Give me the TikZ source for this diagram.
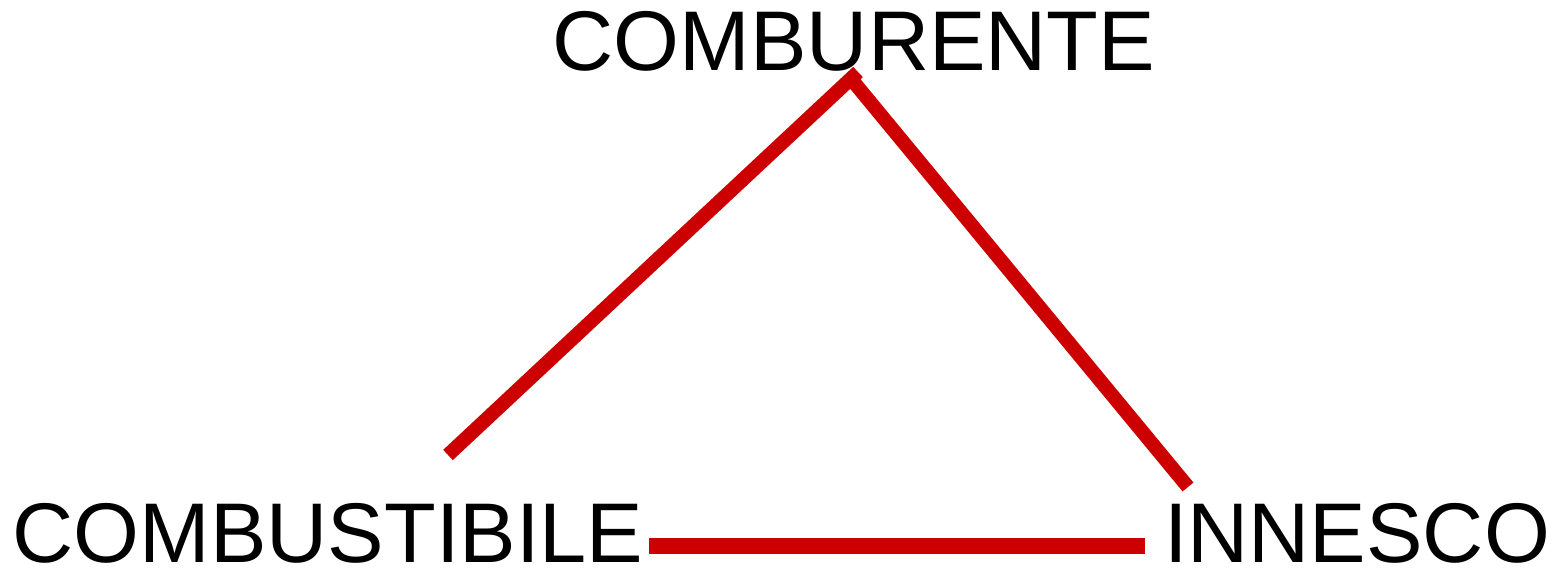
\documentclass[tikz,border=0pt]{standalone}
\usepackage{fontspec}
\setmainfont{Liberation Sans}
\usepackage{tikz}
\usetikzlibrary{calc, positioning}
\definecolor{FireRed}{RGB}{204,0,0}

\begin{document}
\begin{tikzpicture}[font=\fontsize{24.1}{28}\selectfont,
    label/.style={anchor=base, inner sep=0pt, text=black},
    side/.style={FireRed, line width=4pt},
    base/.style={FireRed, line width=4.5pt}]
  \useasboundingbox (0,0) rectangle (15.58,5.70);

  % labels
  \node[label] (oxid) at (8.54,4.99) {COMBURENTE};
  \node[label] (fuel) at (3.28,0.07) {COMBUSTIBILE};
  \node[label] (heat) at (13.57,0.07) {INNESCO};

  % line ends
  \coordinate (fuel-up) at (4.48,1.15);
  \coordinate (oxid-l) at (8.58,4.98);
  \coordinate (oxid-r) at (8.52,4.90);
  \coordinate (heat-up) at (11.88,0.83);
  \coordinate (fuel-r) at (6.49,0.24);
  \coordinate (heat-l) at (11.45,0.24);

  % triangle
  \draw[side] (fuel-up) -- (oxid-l);
  \draw[side] (oxid-r) -- (heat-up);
  \draw[base] (fuel-r) -- (heat-l);
\end{tikzpicture}
\end{document}
